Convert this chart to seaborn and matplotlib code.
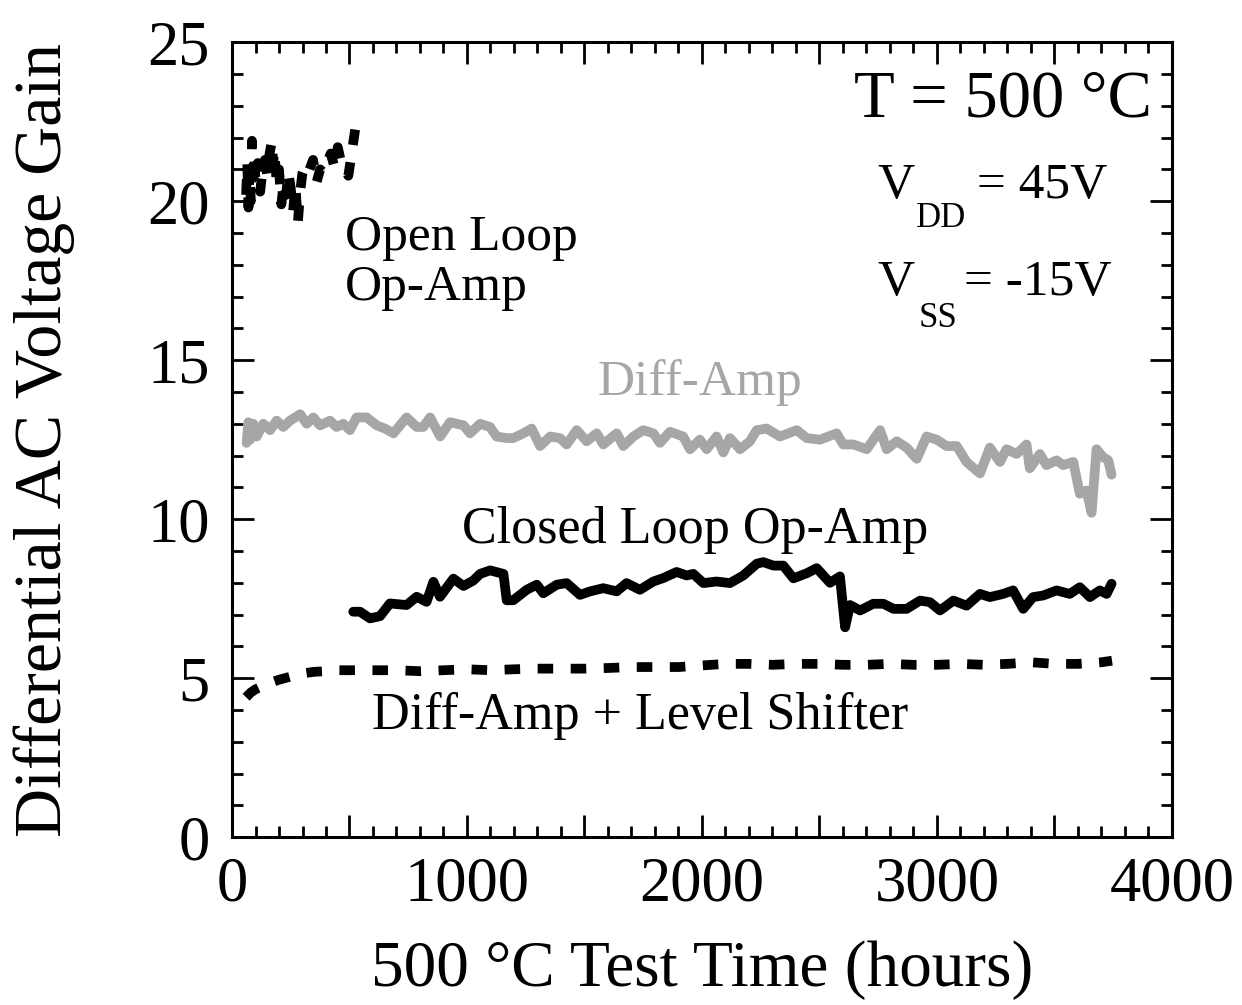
import matplotlib
matplotlib.use("Agg")
import numpy as np
import pandas as pd
import seaborn as sns
import matplotlib.pyplot as plt
from matplotlib.ticker import MultipleLocator, FuncFormatter

# ---------------- data ----------------
open_loop_hours = [60, 65, 70, 75, 80, 85, 90, 95, 100, 110, 120, 130, 140, 150, 160, 170, 175, 180,
                   190, 200, 210, 220, 230, 240, 250, 260, 270, 280, 290, 300, 315, 330, 345, 360,
                   375, 390, 405, 420, 435, 450, 465, 480, 495, 505, 515, 525]
open_loop_gain = [20.2, 21.2, 19.8, 21.0, 20.0, 21.9, 20.4, 21.5, 20.6, 21.2, 20.3, 21.0, 21.3, 20.8,
                  21.5, 21.9, 21.2, 21.6, 20.6, 21.0, 19.9, 20.6, 20.2, 20.9, 20.4, 19.7, 20.5, 19.3,
                  20.3, 20.9, 21.2, 21.0, 21.3, 20.6, 21.0, 20.9, 21.2, 21.5, 21.1, 21.7, 21.2, 21.0,
                  20.8, 21.3, 21.8, 22.3]

diff_amp_hours = [62, 70, 77, 91, 105, 133, 162, 190, 218, 247, 290, 318, 346, 375, 417, 445, 474, 502,
                  530, 573, 616, 651, 687, 715, 743, 786, 814, 843, 886, 928, 985, 1013, 1056, 1098,
                  1126, 1169, 1197, 1240, 1275, 1311, 1354, 1396, 1424, 1467, 1509, 1552, 1580, 1637,
                  1665, 1708, 1750, 1793, 1821, 1864, 1920, 1949, 1991, 2020, 2062, 2091, 2119, 2162,
                  2204, 2233, 2275, 2332, 2403, 2446, 2502, 2573, 2601, 2644, 2701, 2758, 2786, 2829,
                  2871, 2914, 2956, 2999, 3041, 3084, 3126, 3183, 3225, 3268, 3296, 3339, 3381, 3395,
                  3438, 3466, 3509, 3537, 3580, 3608, 3636, 3658, 3679, 3707, 3729, 3743]
diff_amp_gain = [12.4, 13.05, 12.5, 13.0, 12.6, 13.0, 12.8, 13.1, 12.9, 13.1, 13.3, 13.0, 13.2, 12.95,
                 13.1, 12.9, 13.0, 12.8, 13.2, 13.2, 12.95, 12.85, 12.7, 12.95, 13.2, 12.9, 12.9, 13.2,
                 12.6, 13.05, 12.95, 12.7, 13.0, 12.9, 12.6, 12.55, 12.55, 12.7, 12.85, 12.3, 12.6,
                 12.55, 12.35, 12.8, 12.45, 12.7, 12.35, 12.7, 12.3, 12.6, 12.8, 12.7, 12.4, 12.75,
                 12.6, 12.2, 12.5, 12.2, 12.6, 12.1, 12.55, 12.2, 12.45, 12.8, 12.85, 12.6, 12.8,
                 12.55, 12.5, 12.7, 12.35, 12.35, 12.2, 12.8, 12.2, 12.45, 12.25, 11.9, 12.6, 12.5,
                 12.3, 12.3, 11.8, 11.44, 12.25, 11.8, 12.2, 12.05, 12.35, 11.6, 12.05, 11.7, 11.85,
                 11.7, 11.8, 10.8, 10.9, 10.2, 12.2, 11.95, 11.85, 11.4]

closed_loop_hours = [516, 545, 587, 630, 672, 743, 786, 828, 857, 885, 942, 985, 1027, 1056, 1098,
                     1155, 1169, 1197, 1254, 1297, 1325, 1382, 1424, 1481, 1524, 1580, 1637, 1679,
                     1736, 1793, 1836, 1892, 1935, 1963, 2006, 2062, 2119, 2176, 2233, 2261, 2304,
                     2346, 2389, 2446, 2488, 2545, 2587, 2609, 2630, 2673, 2729, 2772, 2815, 2871,
                     2928, 2970, 3013, 3070, 3126, 3183, 3225, 3282, 3324, 3367, 3409, 3452, 3509,
                     3565, 3608, 3651, 3693, 3722, 3743]
closed_loop_gain = [7.09, 7.09, 6.88, 6.95, 7.35, 7.3, 7.56, 7.4, 8.03, 7.56, 8.13, 7.9, 8.07, 8.28,
                    8.39, 8.28, 7.45, 7.45, 7.78, 7.94, 7.67, 7.94, 7.99, 7.62, 7.73, 7.83, 7.73,
                    7.99, 7.78, 8.04, 8.15, 8.34, 8.23, 8.28, 7.99, 8.04, 7.99, 8.23, 8.6, 8.65,
                    8.54, 8.54, 8.14, 8.3, 8.46, 8.0, 8.2, 6.6, 7.3, 7.13, 7.34, 7.34, 7.18, 7.18,
                    7.44, 7.39, 7.13, 7.44, 7.28, 7.65, 7.55, 7.65, 7.76, 7.18, 7.55, 7.6, 7.76,
                    7.65, 7.86, 7.55, 7.76, 7.65, 7.97]

shifter_hours = [60, 80, 100, 130, 160, 200, 250, 300, 350, 400, 450, 500, 600, 700, 800, 900, 1000,
                 1100, 1200, 1300, 1400, 1500, 1600, 1700, 1800, 1900, 2000, 2100, 2200, 2300, 2400,
                 2500, 2600, 2700, 2800, 2900, 3000, 3100, 3200, 3300, 3400, 3500, 3600, 3700, 3745]
shifter_gain = [4.4, 4.55, 4.65, 4.75, 4.85, 4.95, 5.05, 5.15, 5.2, 5.22, 5.25, 5.25, 5.25, 5.25, 5.22,
                5.25, 5.28, 5.25, 5.28, 5.3, 5.3, 5.3, 5.32, 5.35, 5.35, 5.35, 5.4, 5.45, 5.45, 5.42,
                5.45, 5.45, 5.42, 5.42, 5.45, 5.42, 5.42, 5.45, 5.42, 5.45, 5.5, 5.45, 5.45, 5.5, 5.55]

x_major_labels = [0, 1000, 2000, 3000, 4000]

# ---------------- style ----------------
sns.set_style("ticks")
plt.rcParams['font.family'] = ['Liberation Serif', 'DejaVu Serif']
plt.rcParams['axes.linewidth'] = 2.2
for key in ['text.color', 'axes.labelcolor', 'xtick.color', 'ytick.color', 'axes.edgecolor']:
    plt.rcParams[key] = 'black'

fig = plt.figure(figsize=(12.42, 10.05), dpi=100)
ax = fig.add_axes([0.1868, 0.167, 0.7568, 0.791])

gray = '#a6a6a6'
dash = (0, (1.6, 1.8))

df_ol = pd.DataFrame({'hours': open_loop_hours, 'gain': open_loop_gain})
df_da = pd.DataFrame({'hours': diff_amp_hours, 'gain': diff_amp_gain})
df_cl = pd.DataFrame({'hours': closed_loop_hours, 'gain': closed_loop_gain})
df_ls = pd.DataFrame({'hours': shifter_hours, 'gain': shifter_gain})

sns.lineplot(data=df_da, x='hours', y='gain', ax=ax, color=gray, lw=7, estimator=None,
             solid_joinstyle='round')
sns.lineplot(data=df_cl, x='hours', y='gain', ax=ax, color='black', lw=7, estimator=None,
             solid_joinstyle='round')
sns.lineplot(data=df_ol, x='hours', y='gain', ax=ax, color='black', lw=7, estimator=None,
             linestyle=dash)
sns.lineplot(data=df_ls, x='hours', y='gain', ax=ax, color='black', lw=7, estimator=None,
             linestyle=dash)

ax.set_xlim(0, 4000)
ax.set_ylim(0, 25)
ax.xaxis.set_major_locator(MultipleLocator(500))
ax.xaxis.set_minor_locator(MultipleLocator(100))
ax.xaxis.set_major_formatter(FuncFormatter(
    lambda v, p: f"{int(round(v))}" if int(round(v)) in x_major_labels else ""))
ax.yaxis.set_major_locator(MultipleLocator(5))
ax.yaxis.set_minor_locator(MultipleLocator(1))

ax.tick_params(which='both', direction='in', top=True, right=True, width=2, labelsize=45,
               color='black', labelcolor='black')
ax.tick_params(which='major', length=16)
ax.tick_params(which='minor', length=8)
ax.tick_params(axis='y', pad=16)
ax.tick_params(axis='x', pad=14)

ax.set_xlabel('500 °C Test Time (hours)', fontsize=47)
ax.set_ylabel('Differential AC Voltage Gain', fontsize=49)
ax.xaxis.set_label_coords(0.5, -0.13)
ax.yaxis.set_label_coords(-0.167, 0.5)

# annotations
ax.text(0.979, 0.927, 'T = 500 °C', transform=ax.transAxes, ha='right', va='center', fontsize=48)
ax.text(0.687, 0.820, 'V', transform=ax.transAxes, ha='left', va='center', fontsize=37)
ax.text(0.728, 0.778, 'DD', transform=ax.transAxes, ha='left', va='center', fontsize=25)
ax.text(0.931, 0.820, '= 45V', transform=ax.transAxes, ha='right', va='center', fontsize=37)
ax.text(0.687, 0.697, 'V', transform=ax.transAxes, ha='left', va='center', fontsize=37)
ax.text(0.731, 0.652, 'SS', transform=ax.transAxes, ha='left', va='center', fontsize=25)
ax.text(0.936, 0.697, '= -15V', transform=ax.transAxes, ha='right', va='center', fontsize=37)

ax.text(0.120, 0.722, 'Open Loop\nOp-Amp', transform=ax.transAxes, ha='left', va='center',
        fontsize=37, linespacing=1.1)
ax.text(0.498, 0.572, 'Diff-Amp', transform=ax.transAxes, ha='center', va='center',
        fontsize=37, color=gray)
ax.text(0.493, 0.386, 'Closed Loop Op-Amp', transform=ax.transAxes, ha='center', va='center',
        fontsize=37.5)
ax.text(0.434, 0.153, 'Diff-Amp + Level Shifter', transform=ax.transAxes, ha='center',
        va='center', fontsize=37.5)

fig.savefig('out.png', dpi=100)
